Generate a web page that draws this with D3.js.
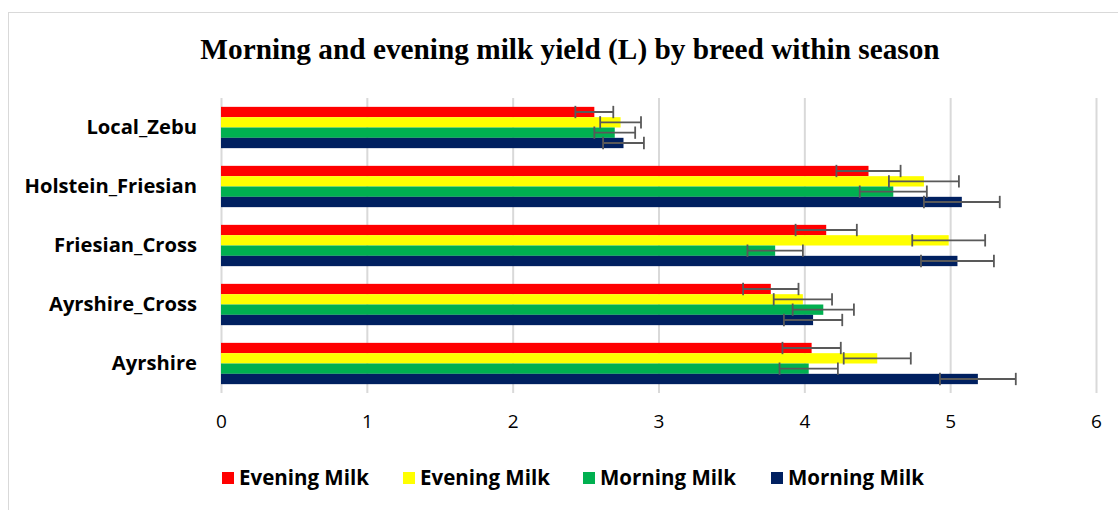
<!DOCTYPE html>
<html>
<head>
<meta charset="utf-8">
<script src="https://cdn.jsdelivr.net/npm/d3@7"></script>
<style>
  body { margin: 0; background: #fff; }
</style>
</head>
<body>
<div class="canvas"></div>
<script>
// chart data
const breeds = ['Local_Zebu', 'Holstein_Friesian', 'Friesian_Cross', 'Ayrshire_Cross', 'Ayrshire'];
const seriesNames = ['Evening Milk', 'Evening Milk', 'Morning Milk', 'Morning Milk'];
const seriesColors = ['#ff0000', '#ffff00', '#00b050', '#002060'];
// values per series, in breed order above
const eveningA = [2.56, 4.44, 4.15, 3.77, 4.05];
const eveningB = [2.74, 4.82, 4.99, 3.99, 4.50];
const morningA = [2.70, 4.61, 3.80, 4.13, 4.03];
const morningB = [2.76, 5.08, 5.05, 4.06, 5.19];
// error (+/-) per series
const errEveningA = [0.13, 0.22, 0.21, 0.19, 0.20];
const errEveningB = [0.14, 0.24, 0.25, 0.20, 0.23];
const errMorningA = [0.14, 0.23, 0.19, 0.21, 0.20];
const errMorningB = [0.14, 0.26, 0.25, 0.20, 0.26];
const xTicks = [0, 1, 2, 3, 4, 5, 6];

const values = [eveningA, eveningB, morningA, morningB];
const errors = [errEveningA, errEveningB, errMorningA, errMorningB];

const width = 1118, height = 510;
const sans = '"Open Sans", Lato, sans-serif';
const svg = d3.select('.canvas')
	.append('svg')
	.attr('width', width)
	.attr('height', height);

// chart border
svg.append('rect')
	.attr('x', 8.5).attr('y', 12.5)
	.attr('width', 1130).attr('height', 520)
	.attr('fill', 'none')
	.attr('stroke', '#d9d9d9')
	.attr('stroke-width', 1);

svg.append('text')
	.attr('x', 570).attr('y', 59)
	.attr('text-anchor', 'middle')
	.attr('font-family', '"Liberation Serif", "Times New Roman", serif')
	.attr('font-weight', 'bold')
	.attr('font-size', 29.3)
	.text('Morning and evening milk yield (L) by breed within season');

const plot = {left: 221, right: 1096, top: 98, bottom: 393};

const x = d3.scaleLinear()
	.domain([0, 6])
	.range([plot.left, plot.right]);

const y = d3.scaleBand()
	.domain(breeds)
	.range([plot.top, plot.bottom])
	.paddingInner(0.3)
	.paddingOuter(0.15);

const ySub = d3.scaleBand()
	.domain(d3.range(values.length))
	.range([0, y.bandwidth()]);

// gridlines + tick labels
const xAxis = d3.axisBottom(x)
	.tickValues(xTicks)
	.tickFormat(d3.format('d'))
	.tickSize(-(plot.bottom - plot.top))
	.tickPadding(22);

const xAxisGroup = svg.append('g')
	.attr('transform', `translate(0,${plot.bottom})`)
	.call(xAxis);
xAxisGroup.select('.domain').remove();
xAxisGroup.selectAll('line')
	.attr('stroke', '#d9d9d9')
	.attr('stroke-width', 2);
xAxisGroup.selectAll('text')
	.attr('font-family', sans)
	.attr('font-size', 19)
	.attr('fill', '#000');

// category labels
const yAxis = d3.axisLeft(y).tickSize(0).tickPadding(24);
const yAxisGroup = svg.append('g')
	.attr('transform', `translate(${plot.left},0)`)
	.call(yAxis);
yAxisGroup.select('.domain').remove();
yAxisGroup.selectAll('text')
	.attr('font-family', sans)
	.attr('font-weight', 'bold')
	.attr('font-size', 20.2)
	.attr('fill', '#000');

// bars
const groups = svg.append('g').selectAll('g')
	.data(values)
	.enter()
	.append('g')
	.attr('fill', (d, i) => seriesColors[i]);

groups.each(function(vals, si) {
	d3.select(this).selectAll('rect')
		.data(vals)
		.enter()
		.append('rect')
		.attr('x', x(0))
		.attr('y', (d, i) => y(breeds[i]) + ySub(si))
		.attr('width', d => x(d) - x(0))
		.attr('height', ySub.bandwidth());
});

// error bars
const errG = svg.append('g')
	.attr('stroke', '#595959')
	.attr('stroke-width', 1.8)
	.attr('fill', 'none');

values.forEach((vals, si) => {
	vals.forEach((v, i) => {
		const e = errors[si][i];
		const cy = y(breeds[i]) + ySub(si) + ySub.bandwidth() / 2;
		const h = ySub.bandwidth() / 2 + 1;
		errG.append('line')
			.attr('x1', x(v - e)).attr('x2', x(v + e))
			.attr('y1', cy).attr('y2', cy);
		errG.append('line')
			.attr('x1', x(v - e)).attr('x2', x(v - e))
			.attr('y1', cy - h).attr('y2', cy + h);
		errG.append('line')
			.attr('x1', x(v + e)).attr('x2', x(v + e))
			.attr('y1', cy - h).attr('y2', cy + h);
	});
});

// legend
const legendX = [222, 403, 583, 771];
const legend = svg.append('g').selectAll('g')
	.data(seriesNames)
	.enter()
	.append('g')
	.attr('transform', (d, i) => `translate(${legendX[i]},478)`);

legend.append('rect')
	.attr('x', 0).attr('y', -6)
	.attr('width', 12).attr('height', 12)
	.attr('fill', (d, i) => seriesColors[i]);

legend.append('text')
	.attr('x', 17).attr('y', 0)
	.attr('dy', '0.35em')
	.attr('font-family', sans)
	.attr('font-weight', 'bold')
	.attr('font-size', 20.5)
	.text(d => d);
</script>
</body>
</html>
